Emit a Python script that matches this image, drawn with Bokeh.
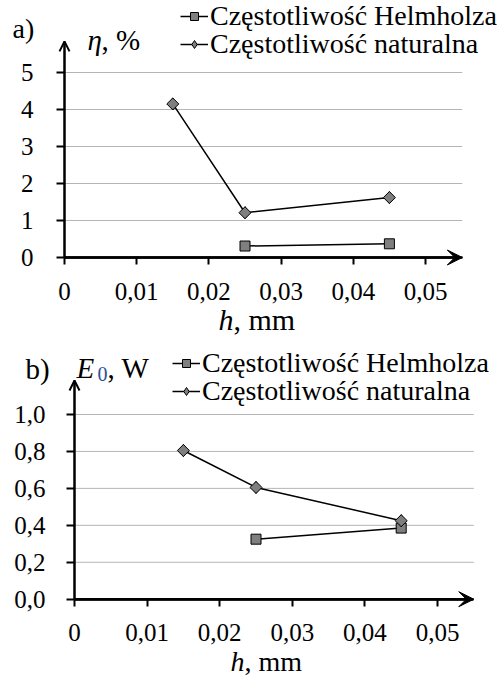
from bokeh.plotting import figure
from bokeh.models import (Range1d, FixedTicker, Arrow, VeeHead, OpenHead, Label,
                          Legend, LegendItem)
from bokeh.layouts import column
from bokeh.embed import file_html
from bokeh.resources import INLINE

# ---- data -------------------------------------------------------------
series_names = ["Częstotliwość Helmholza", "Częstotliwość naturalna"]

# panel a) efficiency eta, %
h_helm_a = [0.025, 0.045]
eta_helm = [0.31, 0.37]
h_nat_a = [0.015, 0.025, 0.045]
eta_nat = [4.15, 1.21, 1.62]

# panel b) energy E0, W
h_helm_b = [0.025, 0.045]
e0_helm = [0.325, 0.385]
h_nat_b = [0.015, 0.025, 0.045]
e0_nat = [0.805, 0.605, 0.425]

x_ticks = [0, 0.01, 0.02, 0.03, 0.04, 0.05]
x_tick_labels = ["0", "0,01", "0,02", "0,03", "0,04", "0,05"]
eta_ticks = [0, 1, 2, 3, 4, 5]
eta_tick_labels = ["0", "1", "2", "3", "4", "5"]
e0_ticks = [0.0, 0.2, 0.4, 0.6, 0.8, 1.0]
e0_tick_labels = ["0,0", "0,2", "0,4", "0,6", "0,8", "1,0"]

SERIF = "'Liberation Serif', 'Times New Roman', serif"
W, H = 497, 339
LABEL_SHIFT = 10      # baseline correction for free text labels, px
LEGEND_ROW = 31       # height of one legend row at the legend font size, px
MARKER_FILL = "#7f7f7f"


def make_panel(origin, px_per_x, px_per_y, x_tip, y_tip, y_standoff,
               xs_h, ys_h, xs_n, ys_n, yticks, ylabels, legend_rows, texts):
    """origin: canvas pixel (x, y from top) where the data origin sits.
    The plotting frame fills the whole canvas; the axes are pinned at 0."""
    ox, oy = origin
    x0, x1 = -ox / px_per_x, (W - ox) / px_per_x
    y0, y1 = -(H - oy) / px_per_y, oy / px_per_y
    p = figure(width=W, height=H, output_backend="svg", toolbar_location=None,
               x_range=Range1d(x0, x1), y_range=Range1d(y0, y1),
               min_border=0, background_fill_color="white",
               border_fill_color="white")
    p.outline_line_color = None
    p.grid.visible = False

    # axes pinned at the data origin, ending at the arrow tips
    p.xaxis.fixed_location = 0
    p.yaxis.fixed_location = 0
    p.xaxis.bounds = (0, x_tip)
    p.yaxis.bounds = (0, y_tip)
    p.xaxis.ticker = FixedTicker(ticks=x_ticks)
    p.xaxis.major_label_overrides = dict(zip(x_ticks, x_tick_labels))
    p.yaxis.ticker = FixedTicker(ticks=yticks)
    p.yaxis.major_label_overrides = dict(zip(yticks, ylabels))
    for ax in (p.xaxis, p.yaxis):
        ax.axis_line_color = "black"
        ax.major_tick_line_color = "black"
        ax.major_tick_line_width = 2
        ax.major_tick_in = 0
        ax.minor_tick_line_color = None
        ax.major_label_text_font = SERIF
        ax.major_label_text_font_size = "25px"
        ax.major_label_text_color = "black"
    p.xaxis.axis_line_width = 2.5
    p.yaxis.axis_line_width = 2
    p.xaxis.major_tick_out = 7
    p.yaxis.major_tick_out = 8
    p.xaxis.major_label_standoff = 18
    p.yaxis.major_label_standoff = y_standoff

    # horizontal grid lines from the axis to the arrow tip
    p.segment(x0=[0] * len(yticks), y0=yticks, x1=[x_tip] * len(yticks),
              y1=yticks, line_color="#b5b5b5", line_width=1, level="underlay")

    # arrow heads at the ends of the axes
    p.add_layout(Arrow(x_start=0, y_start=0, x_end=x_tip, y_end=0,
                       line_width=2.5, line_color="black",
                       end=VeeHead(size=15, fill_color="black", line_color="black")))
    p.add_layout(Arrow(x_start=0, y_start=0, x_end=0, y_end=y_tip,
                       line_width=2, line_color="black",
                       end=OpenHead(size=10, line_width=2, line_color="black")))

    # series: Helmholtz frequency (squares)
    lh = p.line(xs_h, ys_h, line_color="black", line_width=1.5)
    mh = p.scatter(xs_h, ys_h, marker="square", size=10, fill_color=MARKER_FILL,
                   line_color="black", line_width=1)
    # series: natural frequency (diamonds); the narrow diamond serves as the
    # legend glyph, the square turned by 45 degrees is the visible point
    ln = p.line(xs_n, ys_n, line_color="black", line_width=1.5)
    mn = p.scatter(xs_n, ys_n, marker="diamond", size=12, fill_color=MARKER_FILL,
                   line_color="black", line_width=1)
    p.scatter(xs_n, ys_n, marker="square", angle=0.7854, size=8.5,
              fill_color=MARKER_FILL, line_color="black", line_width=1)

    # one single-row legend per series, so the rows sit close together
    items = [LegendItem(label=series_names[0], renderers=[lh, mh]),
             LegendItem(label=series_names[1], renderers=[ln, mn])]
    for item, (lx, cy) in zip(items, legend_rows):
        p.add_layout(Legend(items=[item],
                            location=(lx, H - cy - LEGEND_ROW / 2),
                            label_text_font=SERIF, label_text_font_size="28px",
                            label_text_color="black",
                            glyph_width=28, glyph_height=20, label_height=26,
                            label_standoff=2, spacing=0, padding=0, margin=0,
                            border_line_color=None, background_fill_alpha=0))

    # free text: panel letter, axis names
    for txt, cx, cy, size, style, color in texts:
        p.add_layout(Label(x=cx, y=H - cy + LABEL_SHIFT, x_units="screen",
                           y_units="screen", text=txt, text_font=SERIF,
                           text_font_size=size, text_font_style=style,
                           text_color=color, text_baseline="alphabetic"))
    return p


pa = make_panel(origin=(64, 257), px_per_x=7220, px_per_y=37,
                x_tip=0.0551, y_tip=5.84, y_standoff=23,
                xs_h=h_helm_a, ys_h=eta_helm, xs_n=h_nat_a, ys_n=eta_nat,
                yticks=eta_ticks, ylabels=eta_tick_labels,
                legend_rows=[(180, 16), (180, 44)],
                texts=[("a)", 12, 38, "28px", "normal", "black"),
                       ("η", 87, 49, "29px", "italic", "black"),
                       (", %", 101, 49, "29px", "normal", "black"),
                       ("h", 218, 329, "30px", "italic", "black"),
                       (", mm", 233, 329, "30px", "normal", "black")])

pb = make_panel(origin=(74, 259.7), px_per_x=7260, px_per_y=184.7,
                x_tip=0.055, y_tip=1.184, y_standoff=21,
                xs_h=h_helm_b, ys_h=e0_helm, xs_n=h_nat_b, ys_n=e0_nat,
                yticks=e0_ticks, ylabels=e0_tick_labels,
                legend_rows=[(172, 24), (172, 52)],
                texts=[("b)", 25, 39, "29px", "normal", "black"),
                       ("E", 76, 38, "29px", "italic", "black"),
                       ("0", 97, 44, "20px", "normal", "#2a4f94"),
                       (", W", 107, 38, "29px", "normal", "black"),
                       ("h", 230, 332, "28px", "italic", "black"),
                       (", mm", 244, 332, "28px", "normal", "black")])

layout = column(pa, pb, spacing=0)
open("out.html", "w").write(file_html(layout, INLINE))
